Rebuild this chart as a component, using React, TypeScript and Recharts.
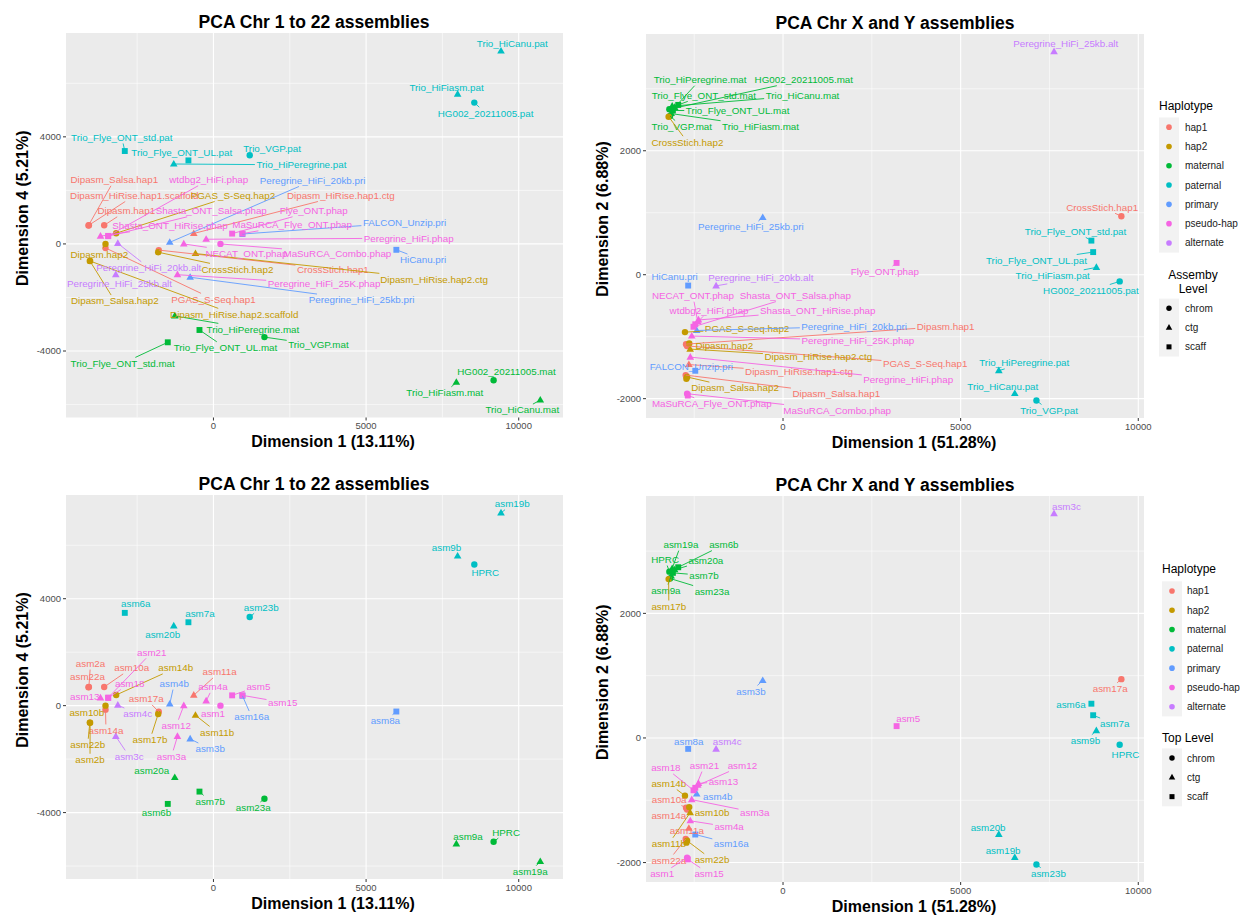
import React from 'react';
import { ScatterChart, Scatter, XAxis, YAxis, CartesianGrid, ReferenceLine } from 'recharts';

const FONT = '"Liberation Sans", Arial, Helvetica, sans-serif';

const HAPLOTYPES = ['hap1', 'hap2', 'maternal', 'paternal', 'primary', 'pseudo-hap', 'alternate'];
const HAPLOTYPE_COLORS = ['#F8766D', '#C49A00', '#00BA38', '#00BFC4', '#619CFF', '#F564E3', '#C77CFF'];
const LEVELS = ['chrom', 'ctg', 'scaff'];

const ASSEMBLY_LONG = [
  'Trio_HiCanu.pat', 'Trio_HiFiasm.pat', 'HG002_20211005.pat', 'Trio_Flye_ONT_std.pat', 'Trio_Flye_ONT_UL.pat', 'Trio_VGP.pat', 'Trio_HiPeregrine.pat',
  'Trio_HiCanu.mat', 'Trio_HiFiasm.mat', 'HG002_20211005.mat', 'Trio_Flye_ONT_std.mat', 'Trio_Flye_ONT_UL.mat', 'Trio_VGP.mat', 'Trio_HiPeregrine.mat',
  'Dipasm_Salsa.hap1', 'Dipasm_HiRise.hap1.scaffold', 'Dipasm.hap1', 'Dipasm_HiRise.hap1.ctg', 'CrossStich.hap1', 'PGAS_S-Seq.hap1',
  'Dipasm_Salsa.hap2', 'Dipasm_HiRise.hap2.scaffold', 'Dipasm.hap2', 'Dipasm_HiRise.hap2.ctg', 'CrossStich.hap2', 'PGAS_S-Seq.hap2',
  'Peregrine_HiFi_20kb.pri', 'Peregrine_HiFi_25kb.pri', 'FALCON_Unzip.pri', 'HiCanu.pri',
  'wtdbg2_HiFi.phap', 'Shasta_ONT_Salsa.phap', 'Shasta_ONT_HiRise.phap', 'Flye_ONT.phap', 'MaSuRCA_Flye_ONT.phap', 'Peregrine_HiFi.phap', 'NECAT_ONT.phap', 'MaSuRCA_Combo.phap', 'Peregrine_HiFi_25K.phap',
  'Peregrine_HiFi_20kb.alt', 'Peregrine_HiFi_25kb.alt',
];

const ASSEMBLY_SHORT = [
  'asm19b', 'asm9b', 'HPRC', 'asm6a', 'asm7a', 'asm23b', 'asm20b',
  'asm19a', 'asm9a', 'HPRC', 'asm6b', 'asm7b', 'asm23a', 'asm20a',
  'asm22a', 'asm2a', 'asm10a', 'asm11a', 'asm17a', 'asm14a',
  'asm22b', 'asm2b', 'asm10b', 'asm11b', 'asm17b', 'asm14b',
  'asm4b', 'asm3b', 'asm16a', 'asm8a',
  'asm21', 'asm18', 'asm13', 'asm5', 'asm15', 'asm4a', 'asm12', 'asm1', 'asm3a',
  'asm4c', 'asm3c',
];

const HAPLOTYPE = [
  'paternal', 'paternal', 'paternal', 'paternal', 'paternal', 'paternal', 'paternal',
  'maternal', 'maternal', 'maternal', 'maternal', 'maternal', 'maternal', 'maternal',
  'hap1', 'hap1', 'hap1', 'hap1', 'hap1', 'hap1',
  'hap2', 'hap2', 'hap2', 'hap2', 'hap2', 'hap2',
  'primary', 'primary', 'primary', 'primary',
  'pseudo-hap', 'pseudo-hap', 'pseudo-hap', 'pseudo-hap', 'pseudo-hap', 'pseudo-hap', 'pseudo-hap', 'pseudo-hap', 'pseudo-hap',
  'alternate', 'alternate',
];

const LEVEL = [
  'ctg', 'ctg', 'chrom', 'scaff', 'scaff', 'chrom', 'ctg',
  'ctg', 'ctg', 'chrom', 'scaff', 'scaff', 'chrom', 'ctg',
  'chrom', 'chrom', 'chrom', 'ctg', 'chrom', 'chrom',
  'chrom', 'chrom', 'chrom', 'ctg', 'chrom', 'chrom',
  'ctg', 'ctg', 'scaff', 'scaff',
  'scaff', 'scaff', 'ctg', 'scaff', 'scaff', 'ctg', 'ctg', 'chrom', 'ctg',
  'ctg', 'ctg',
];

// PCA of chromosomes 1-22: Dimension 1 vs Dimension 4
const CHR22_DIM1 = [9419, 7998, 8545, -2904, -820, 1188, -1300, 10706, 7956, 9177, -1496, -458, 1670, -1267, -4093, -4080, -3579, -645, -1791, -3536, -4050, -4040, -3536, -589, -1810, -3186, -1431, -763, 949, 5991, -3448, -3448, -3700, 612, 949, -239, -972, 229, -1179, -3133, -3199];
const CHR22_DIM4 = [7207, 5595, 5280, 3470, 3120, 3315, 2985, -5831, -5170, -5090, -3675, -3215, -3480, -2690, 690, 700, 697, 390, -230, -150, -635, -640, 0, -360, -310, 400, 60, -1245, 370, -220, 300, 290, 290, 385, 385, 175, 0, 0, -1150, 20, -1150];

// PCA of chromosomes X and Y: Dimension 1 vs Dimension 2
const XY_DIM1 = [6524, 8820, 9476, 8680, 8730, 7133, 6074, -3120, -3150, -3200, -2950, -3100, -3180, -3050, -2740, -2720, -2730, -2650, 9524, -2700, -2700, -2720, -2640, -2615, -3220, -2760, -2430, -571, -2470, -2670, -2470, -2520, -2380, 3197, -2680, -2610, -2400, -2700, -2570, -1884, 7629];
const XY_DIM2 = [-1918, 118, -108, 550, 365, -2030, -1548, 2720, 2600, 2670, 2740, 2650, 2560, 2700, -1620, -1640, -1120, -1450, 944, -1150, -1650, -1680, -1110, -1200, 2550, -926, -900, 922, -1550, -175, -800, -840, -730, 190, -1950, -1330, -760, -1920, -990, -180, 3600];

// repelled label anchors (data units) for each panel
const CHR22_LONG_LABEL_X = [9789, 7635, 8915, -3002, -1038, 1922, 2881, 10117, 7579, 9599, -2973, 393, 3438, 1293, -3248, -2593, -2855, 4174, 3912, 0, -3231, 681, -3739, 7229, 786, 638, 3248, 4852, 6260, 6866, -154, -72, -1424, 3284, 2577, 6394, 1080, 4060, 3624, -2118, -3078];
const CHR22_LONG_LABEL_Y = [7502, 5843, 4886, 3974, 3413, 3577, 2953, -6205, -5558, -4773, -4460, -3876, -3775, -3188, 2392, 1805, 1234, 1805, -946, -2067, -2131, -2628, -385, -1320, -946, 1805, 2366, -2093, 796, -598, 2392, 1234, 673, 1234, 710, 213, -348, -348, -1495, -886, -1495];

const CHR22_SHORT_LABEL_X = [9789, 7635, 8905, -2544, -442, 1565, -1663, 10379, 8339, 9586, -1866, -108, 1303, -2020, -4125, -4027, -2678, 203, -2200, -3520, -4119, -4043, -4148, 121, -2079, -1234, -1283, -108, 1254, 5631, -2020, -2744, -4214, 1473, 2269, -16, -1221, -16, -1375, -2482, -2760];
const CHR22_SHORT_LABEL_Y = [7551, 5895, 4983, 3802, 3439, 3674, 2654, -6205, -4886, -4736, -4011, -3577, -3824, -2430, 1073, 1570, 1409, 1260, 250, -923, -1458, -2019, -273, -998, -1271, 1409, 822, -1619, -422, -561, 1992, 822, 348, 721, 123, 699, -748, -310, -1895, -310, -1895];

const XY_LONG_LABEL_X = [6186, 7592, 8667, 8234, 7134, 7488, 6791, 548, -633, 585, -2230, -1279, -2849, -2334, 1499, null, 4578, 450, 8984, 4001, -1350, null, -1653, 993, -2691, -1012, 2002, -905, -2581, -3051, -2081, 346, 979, 2868, -2005, 3523, -2536, 1524, 2109, -624, 7958];
const XY_LONG_LABEL_Y = [-1802, -16, -253, 698, 231, -2189, -1424, 2892, 2392, 3145, 2892, 2645, 2392, 3145, -1919, null, -834, -1570, 1086, -1436, -1828, null, -1145, -1328, 2140, -876, -834, 769, -1479, -37, -576, -339, -576, 44, -2081, -1694, -339, -2189, -1060, -53, 3737];

const XY_SHORT_LABEL_X = [6195, 8512, 9640, 8104, 9336, 7471, 5773, -2874, -3298, -3318, -1665, -2227, -1997, -2171, -3214, null, -3206, -2708, 9209, -3214, -1997, null, -1997, -3214, -3214, -3214, -1836, -900, -1457, -2652, -2213, -3298, -1679, 3523, -2081, -1518, -1144, -3403, -796, -1569, 7978];
const XY_SHORT_LABEL_Y = [-1804, -43, -268, 534, 225, -2178, -1445, 3102, 2369, 2862, 3102, 2610, 2353, 2851, -1965, null, -990, -1488, 791, -1242, -1953, null, -1194, -1697, 2112, -733, -937, 748, -1697, -55, -445, -482, -697, 310, -2178, -1428, -445, -2178, -1194, -55, 3717];

const CHR22_X_TICKS = [0, 5000, 10000];
const CHR22_X_MINOR = [-2500, 2500, 7500];
const CHR22_Y_TICKS = [-4000, 0, 4000];
const CHR22_Y_MINOR = [-6000, -2000, 2000, 6000];
const XY_X_TICKS = [0, 5000, 10000];
const XY_X_MINOR = [-2500, 2500, 7500];
const XY_Y_TICKS = [-2000, 0, 2000];
const XY_Y_MINOR = [-1000, 1000, 3000];

const colorOf = (hap: string) => HAPLOTYPE_COLORS[HAPLOTYPES.indexOf(hap)];

const widthCache: Record<string, number> = {};
function textWidth(text: string, fs: number): number {
  const key = text + '|' + fs;
  if (widthCache[key] != null) return widthCache[key];
  let w = text.length * fs * 0.52;
  try {
    const c = document.createElement('canvas').getContext('2d');
    if (c) {
      c.font = `${fs}px "Liberation Sans", Arial, sans-serif`;
      w = c.measureText(text).width;
    }
  } catch (e) { /* ignore */ }
  widthCache[key] = w;
  return w;
}

function marker(level: string, cx: number, cy: number, color: string, k = 1, key?: any) {
  if (level === 'chrom') return <circle key={key} cx={cx} cy={cy} r={3.2 * k} fill={color} />;
  if (level === 'ctg') {
    const a = 4.1 * k;
    return <polygon key={key} points={`${cx},${cy - a} ${cx - a * 0.93},${cy + a * 0.62} ${cx + a * 0.93},${cy + a * 0.62}`} fill={color} />;
  }
  const s = 2.95 * k;
  return <rect key={key} x={cx - s} y={cy - s} width={2 * s} height={2 * s} fill={color} />;
}

const PointShape = (props: any) => {
  const { cx, cy, payload } = props;
  if (cx == null || cy == null) return <g />;
  return marker(payload.level, cx, cy, colorOf(payload.hap));
};

const LABEL_FS = 9.8;

function makeLabelShape(text: string, color: string) {
  return (p: any) => {
    const { x1, y1, x2, y2, clipPath } = p;
    const w = textWidth(text, LABEL_FS);
    const hw = w / 2 + 1.5;
    const hh = LABEL_FS * 0.5 + 1;
    const dx = x1 - x2;
    const dy = y1 - y2;
    const tx = dx !== 0 ? hw / Math.abs(dx) : Infinity;
    const ty = dy !== 0 ? hh / Math.abs(dy) : Infinity;
    const t = Math.min(tx, ty);
    let seg = null;
    if (t < 1) {
      const ex = x2 + dx * t;
      const ey = y2 + dy * t;
      const len = Math.hypot(x1 - ex, y1 - ey);
      if (len > 5) seg = <line x1={x1} y1={y1} x2={ex} y2={ey} stroke={color} strokeWidth={0.9} />;
    }
    return (
      <g clipPath={clipPath}>
        {seg}
        <text x={x2} y={y2} dy="0.35em" textAnchor="middle" fill={color} fontSize={LABEL_FS} fontFamily={FONT}>{text}</text>
      </g>
    );
  };
}

interface PanelProps {
  plotLeft: number; plotTop: number; plotW: number; plotH: number;
  xDomain: number[]; yDomain: number[];
  xTicks: number[]; yTicks: number[]; xMinor: number[]; yMinor: number[];
  dimX: number[]; dimY: number[];
  labels: string[]; labelX: (number | null)[]; labelY: (number | null)[];
}

function PcaPanel(p: PanelProps) {
  const AXW = 60, AXH = 30, MT = 10, MR = 20;
  const data = p.dimX.map((x, i) => ({ x, y: p.dimY[i], hap: HAPLOTYPE[i], level: LEVEL[i] }));
  const tickStyle = { fill: '#4D4D4D', fontSize: 9.5, fontFamily: FONT };
  return (
    <div style={{ position: 'absolute', left: p.plotLeft - AXW, top: p.plotTop - MT }}>
      <ScatterChart width={p.plotW + AXW + MR} height={p.plotH + MT + AXH} margin={{ top: MT, right: MR, bottom: 0, left: 0 }}>
        <CartesianGrid fill="#EBEBEB" stroke="#FFFFFF" strokeWidth={0.55} verticalValues={p.xMinor} horizontalValues={p.yMinor} />
        <CartesianGrid stroke="#FFFFFF" strokeWidth={1.1} verticalValues={p.xTicks} horizontalValues={p.yTicks} />
        <XAxis type="number" dataKey="x" domain={p.xDomain} allowDataOverflow ticks={p.xTicks} interval={0}
          height={AXH} tickSize={3} tickMargin={2} axisLine={false} tickLine={{ stroke: '#333333' }} tick={tickStyle} />
        <YAxis type="number" dataKey="y" domain={p.yDomain} allowDataOverflow ticks={p.yTicks} interval={0}
          width={AXW} tickSize={3} tickMargin={2} axisLine={false} tickLine={{ stroke: '#333333' }} tick={tickStyle} />
        <Scatter data={data} isAnimationActive={false} shape={PointShape} />
        {p.labels.map((t, i) => {
          const lx = p.labelX[i];
          const ly = p.labelY[i];
          if (lx == null || ly == null) return null;
          return (
            <ReferenceLine key={i} segment={[{ x: p.dimX[i], y: p.dimY[i] }, { x: lx, y: ly }]}
              ifOverflow="hidden" zIndex={1000} shape={makeLabelShape(t, colorOf(HAPLOTYPE[i]))} />
          );
        })}
      </ScatterChart>
    </div>
  );
}

function Legend({ x, y, dx, titleLevel }: { x: number; y: number; dx: number; titleLevel: string[] }) {
  const rowH = 19.3;
  const keyW = 20;
  const hapTop = y + 12;
  const levelTitleY = hapTop + 7 * rowH + 22;
  const levelTop = levelTitleY + (titleLevel.length - 1) * 14 + 10;
  return (
    <g fontFamily={FONT}>
      <text x={x} y={y + 4} fontSize={12} fill="#000">Haplotype</text>
      <rect x={x} y={hapTop} width={keyW} height={7 * rowH} fill="#F2F2F2" />
      {HAPLOTYPES.map((h, i) => (
        <g key={h}>
          <circle cx={x + keyW / 2} cy={hapTop + rowH * (i + 0.5)} r={2.8} fill={HAPLOTYPE_COLORS[i]} />
          <text x={x + keyW + dx} y={hapTop + rowH * (i + 0.5) + 3.5} fontSize={10} fill="#1A1A1A">{h}</text>
        </g>
      ))}
      {titleLevel.map((t, i) => (
        <text key={t} x={titleLevel.length > 1 ? x + 34 : x} y={levelTitleY + i * 14 + 4} fontSize={12} fill="#000"
          textAnchor={titleLevel.length > 1 ? 'middle' : 'start'}>{t}</text>
      ))}
      <rect x={x} y={levelTop} width={keyW} height={3 * rowH} fill="#F2F2F2" />
      {LEVELS.map((l, i) => (
        <g key={l}>
          {marker(l, x + keyW / 2, levelTop + rowH * (i + 0.5), '#000', 0.85)}
          <text x={x + keyW + dx} y={levelTop + rowH * (i + 0.5) + 3.5} fontSize={10} fill="#1A1A1A">{l}</text>
        </g>
      ))}
    </g>
  );
}

export default function App() {
  const CHR22_XD = [-4830, 11450];
  const CHR22_YD = [-6484, 7879];
  const XY_XD = [-3857, 10161];
  const XY_YD = [-2312, 3884];
  const panels = [
    { left: 65.5, top: 33, w: 497, h: 384.5, xd: CHR22_XD, yd: CHR22_YD, xt: CHR22_X_TICKS, yt: CHR22_Y_TICKS, xm: CHR22_X_MINOR, ym: CHR22_Y_MINOR, dx: CHR22_DIM1, dy: CHR22_DIM4, lab: ASSEMBLY_LONG, lx: CHR22_LONG_LABEL_X, ly: CHR22_LONG_LABEL_Y, title: 'PCA Chr 1 to 22 assemblies', xt2: 'Dimension 1 (13.11%)', yt2: 'Dimension 4 (5.21%)', ys: -17 },
    { left: 646, top: 34, w: 498, h: 384, xd: XY_XD, yd: XY_YD, xt: XY_X_TICKS, yt: XY_Y_TICKS, xm: XY_X_MINOR, ym: XY_Y_MINOR, dx: XY_DIM1, dy: XY_DIM2, lab: ASSEMBLY_LONG, lx: XY_LONG_LABEL_X, ly: XY_LONG_LABEL_Y, title: 'PCA Chr X and Y assemblies', xt2: 'Dimension 1 (51.28%)', yt2: 'Dimension 2 (6.88%)', ys: -7 },
    { left: 65.5, top: 495, w: 497, h: 384, xd: CHR22_XD, yd: CHR22_YD, xt: CHR22_X_TICKS, yt: CHR22_Y_TICKS, xm: CHR22_X_MINOR, ym: CHR22_Y_MINOR, dx: CHR22_DIM1, dy: CHR22_DIM4, lab: ASSEMBLY_SHORT, lx: CHR22_SHORT_LABEL_X, ly: CHR22_SHORT_LABEL_Y, title: 'PCA Chr 1 to 22 assemblies', xt2: 'Dimension 1 (13.11%)', yt2: 'Dimension 4 (5.21%)', ys: -17 },
    { left: 646, top: 496.3, w: 498, h: 386, xd: XY_XD, yd: XY_YD, xt: XY_X_TICKS, yt: XY_Y_TICKS, xm: XY_X_MINOR, ym: XY_Y_MINOR, dx: XY_DIM1, dy: XY_DIM2, lab: ASSEMBLY_SHORT, lx: XY_SHORT_LABEL_X, ly: XY_SHORT_LABEL_Y, title: 'PCA Chr X and Y assemblies', xt2: 'Dimension 1 (51.28%)', yt2: 'Dimension 2 (6.88%)', ys: -7 },
  ];
  return (
    <div style={{ position: 'absolute', left: 0, top: 0, width: 1252, height: 917, background: '#FFFFFF', overflow: 'hidden', fontFamily: FONT }}>
      {panels.map((p, i) => (
        <PcaPanel key={i} plotLeft={p.left} plotTop={p.top} plotW={p.w} plotH={p.h} xDomain={p.xd} yDomain={p.yd}
          xTicks={p.xt} yTicks={p.yt} xMinor={p.xm} yMinor={p.ym} dimX={p.dx} dimY={p.dy}
          labels={p.lab} labelX={p.lx} labelY={p.ly} />
      ))}
      <svg width={1252} height={917} style={{ position: 'absolute', left: 0, top: 0, pointerEvents: 'none' }}>
        {panels.map((p, i) => {
          const cx = p.left + p.w / 2;
          const cy = p.top + p.h / 2 + p.ys;
          const yTitleX = p.left - 43.5;
          return (
            <g key={i} fontFamily={FONT} fill="#000">
              <text x={cx} y={p.top - 5} textAnchor="middle" fontSize={17.5} fontWeight="bold">{p.title}</text>
              <text x={cx + 19} y={p.top + p.h + 24} dy="0.35em" textAnchor="middle" fontSize={16} fontWeight="bold">{p.xt2}</text>
              <text x={yTitleX} y={cy} dy="0.35em" textAnchor="middle" fontSize={16} fontWeight="bold"
                transform={`rotate(-90 ${yTitleX} ${cy})`}>{p.yt2}</text>
            </g>
          );
        })}
        <Legend x={1159} y={105.5} dx={6} titleLevel={['Assemby', 'Level']} />
        <Legend x={1162} y={569.3} dx={5} titleLevel={['Top Level']} />
      </svg>
    </div>
  );
}
